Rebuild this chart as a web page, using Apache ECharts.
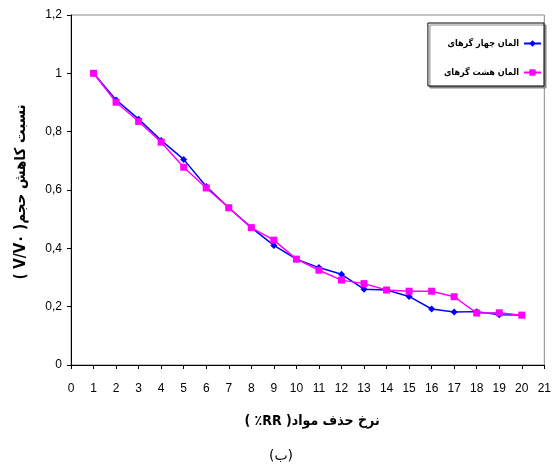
<!DOCTYPE html>
<html><head><meta charset="utf-8">
<script src="https://cdn.jsdelivr.net/npm/echarts@6/dist/echarts.min.js"></script>
<style>html,body{margin:0;padding:0;background:#fff}#c{width:554px;height:468px}</style>
</head><body><div id="c"></div>
<script>
const xValues = [1,2,3,4,5,6,7,8,9,10,11,12,13,14,15,16,17,18,19,20];
const fourNode = [1.0,0.909,0.843,0.770,0.705,0.612,0.539,0.471,0.410,0.363,0.334,0.311,0.260,0.257,0.235,0.192,0.182,0.183,0.172,0.171];
const eightNode = [1.0,0.901,0.835,0.764,0.678,0.607,0.539,0.471,0.428,0.363,0.325,0.291,0.279,0.257,0.253,0.253,0.234,0.178,0.179,0.171];
const seriesNames = ['المان چهار گرهای','المان هشت گرهای'];
const xTitle = '\u202Bنرخ حذف مواد( RR٪ )\u202C';
const yTitle = '\u202Bنسبت کاهش حجم( V/V۰ )\u202C';
const caption = '(ب)';

const chart = echarts.init(document.getElementById('c'), null, {renderer:'canvas'});
const pair = arr => xValues.map((x,i)=>[x,arr[i]]);
chart.setOption({
  animation:false,
  backgroundColor:'#fff',
  grid:{left:71,right:6,top:15,bottom:103,show:true,borderColor:'#888',borderWidth:1,backgroundColor:'transparent'},
  legend:{
    orient:'vertical', right:10, top:23, align:'right',
    padding:[16,2,9,16], itemGap:20,
    itemWidth:17, itemHeight:8,
    backgroundColor:'#fff', borderColor:'#000', borderWidth:1,
    shadowColor:'#888', shadowOffsetX:2, shadowOffsetY:2, shadowBlur:0,
    textStyle:{fontFamily:'DejaVu Sans Condensed', fontWeight:'bold', fontSize:9, color:'#000'},
    data:seriesNames
  },
  xAxis:{
    type:'value', min:0, max:21, interval:1,
    axisLine:{lineStyle:{color:'#000',width:1}},
    axisTick:{show:true,inside:false,length:4,lineStyle:{color:'#000'}},
    axisLabel:{color:'#000',fontFamily:'Liberation Sans',fontSize:12,margin:18},
    splitLine:{show:false}
  },
  yAxis:{
    type:'value', min:0, max:1.2, interval:0.2,
    axisLine:{show:true,lineStyle:{color:'#000',width:1}},
    axisTick:{show:true,inside:false,length:4,lineStyle:{color:'#000'}},
    axisLabel:{color:'#000',fontFamily:'Liberation Sans',fontSize:12,margin:9,
      formatter:v=>String(+v.toFixed(1)).replace('.',',')},
    splitLine:{show:false}
  },
  series:[
    {name:seriesNames[0], type:'line', data:pair(fourNode), symbol:'diamond', symbolSize:7,
     itemStyle:{color:'#0000FF'}, lineStyle:{color:'#0000FF',width:1.5}},
    {name:seriesNames[1], type:'line', data:pair(eightNode), symbol:'rect', symbolSize:7,
     itemStyle:{color:'#FF00FF'}, lineStyle:{color:'#FF00FF',width:1.5}}
  ],
  graphic:[
    {type:'text', style:{text:xTitle, x:312, y:421, align:'center', verticalAlign:'middle',
      font:'bold 14px "DejaVu Sans Condensed"', fill:'#000'}},
    {type:'text', style:{text:caption, x:281, y:456, align:'center', verticalAlign:'middle',
      font:'14px "DejaVu Sans"', fill:'#000'}},
    {type:'text', rotation:Math.PI/2, x:21, y:192, style:{text:yTitle, x:0, y:0, align:'center', verticalAlign:'middle',
      font:'bold 15px "DejaVu Sans Condensed"', fill:'#000'}}
  ]
});
</script></body></html>
